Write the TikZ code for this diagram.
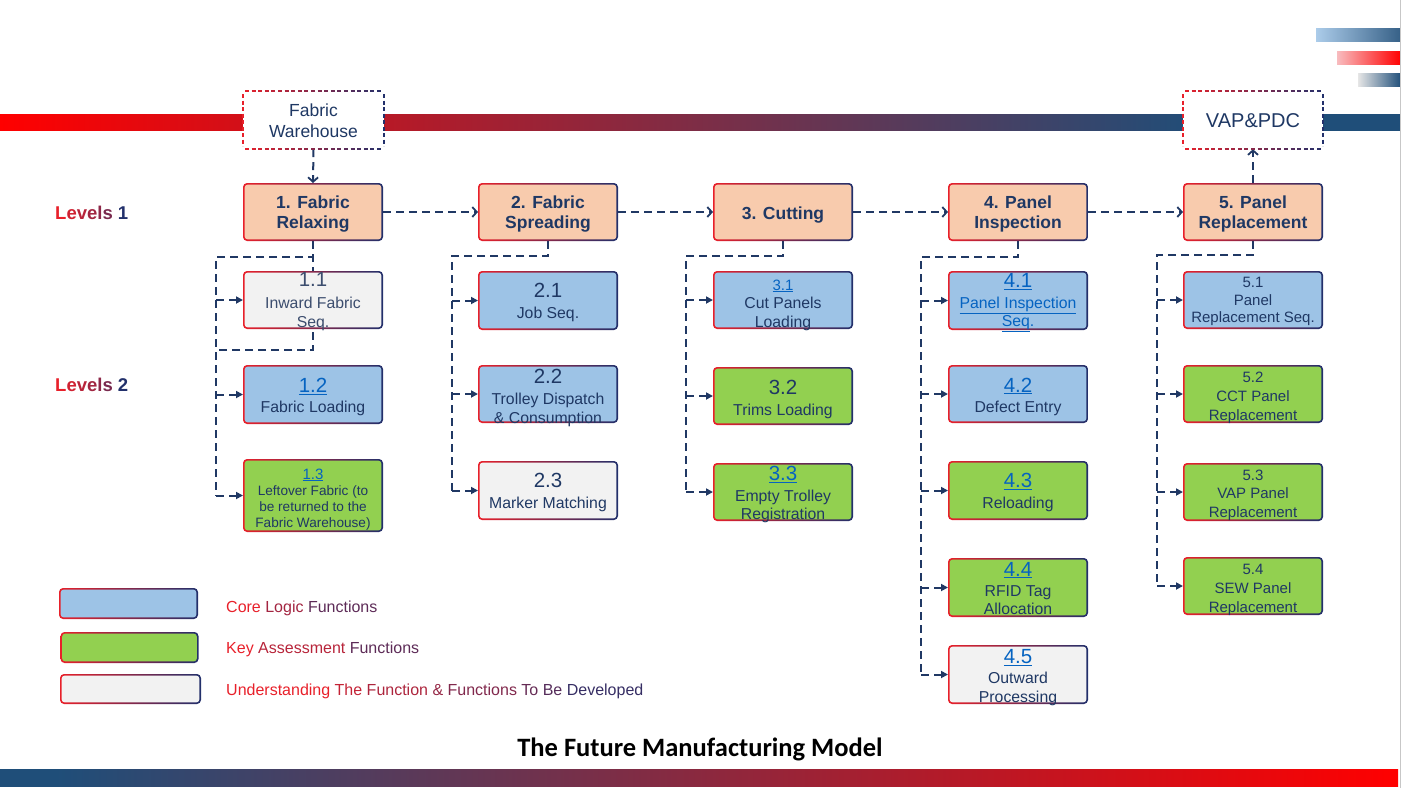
\documentclass[tikz,border=0pt]{standalone}
\usepackage{fontspec}
\setmainfont{Liberation Sans}
\newfontfamily\titlefont{Carlito}
\usetikzlibrary{arrows.meta}
\definecolor{bred}{HTML}{E8202A}
\definecolor{bnavy}{HTML}{22306B}
\definecolor{navy}{HTML}{1F3864}
\definecolor{lnav}{HTML}{203864}
\definecolor{slate}{HTML}{3C4D6E}
\definecolor{link}{HTML}{0563C1}
\definecolor{forange}{HTML}{F8CBAD}
\definecolor{fblue}{HTML}{9DC3E6}
\definecolor{fgreen}{HTML}{92D050}
\definecolor{fgray}{HTML}{F2F2F2}
\definecolor{bandblue}{HTML}{1F4E79}
\definecolor{pureRed}{HTML}{FF0000}
\pgfdeclarehorizontalshading{bandtop}{100bp}{color(0bp)=(pureRed); color(25bp)=(pureRed); color(68bp)=(bandblue); color(100bp)=(bandblue)}
\pgfdeclarehorizontalshading{bandbot}{100bp}{color(0bp)=(bandblue); color(27bp)=(bandblue); color(75bp)=(pureRed); color(100bp)=(pureRed)}
\pgfdeclarelayer{back}
\pgfdeclarelayer{bg}
\pgfsetlayers{back,bg,main}
\tikzset{
 dl/.style={draw=lnav, line width=2pt, dash pattern=on 8pt off 5pt},
 dlt/.style={dl, line width=2.6pt},
 oarr/.style={-{Straight Barb[length=4.5pt,width=10pt,line width=1.8pt]}},
 farr/.style={-{Triangle[length=7pt,width=7pt]}},
 tnode/.style={anchor=mid, inner sep=0pt, text=navy, yshift=-3.5pt},
 lone/.style={tnode, font=\bfseries\fontsize{17.5}{20}\selectfont},
 nb/.style={tnode, font=\fontsize{20.5}{23}\selectfont},
 ns/.style={tnode, font=\fontsize{15}{17}\selectfont},
 ds/.style={tnode, font=\fontsize{15.8}{18}\selectfont},
 dss/.style={tnode, font=\fontsize{13.6}{16}\selectfont},
 lk/.style={text=link},
 sl/.style={text=slate},
 outerbox/.style={rounded corners=4pt, left color=bred, right color=bnavy, inner sep=0pt, outer sep=0pt},
 innerbox/.style={rounded corners=2.8pt, fill=#1, inner sep=0pt, outer sep=0pt},
 sidelabel/.style={anchor=mid west, inner sep=0pt, yshift=-3.5pt},
}
\newcommand\gbox[6]{%
 \node[outerbox, minimum width=#4pt, minimum height=#5pt] (#1) at (#2,#3) {};
 \node[innerbox=#6, minimum width=#4pt-3.4pt, minimum height=#5pt-3.4pt] (#1i) at (#1.center) {};
}
\newcommand\tx[4]{\node[#2] (#1) at (#3) {#4};}
\newcommand\dbox[4]{%
 \draw[bred, line width=1.4pt, dash pattern=on 4pt off 2.5pt] (#1,#2+3) -- (#1,#4-3);
 \draw[bnavy, line width=1.4pt, dash pattern=on 4pt off 2.5pt] (#3,#2+3) -- (#3,#4-3);
 \foreach \k in {0,...,20}{%
  \pgfmathsetmacro\xa{#1+2+\k*6.6}
  \pgfmathtruncatemacro\pc{100-100*(\xa-#1)/(#3-#1)}
  \draw[color=bred!\pc!bnavy, line width=1.4pt] (\xa,#2) -- ++(4,0) (\xa,#4) -- ++(4,0);
 }}
\newcommand\gw[2]{\textcolor{bred!#1!bnavy}{#2}}
\begin{document}
\begin{tikzpicture}[x=1pt,y=-1pt]
\useasboundingbox (0,0) rectangle (1401,788);
\begin{pgfonlayer}{back}
 \shade[shading=bandtop] (0,114) rectangle (1401,130);
 \shade[shading=bandbot] (0,769) rectangle (1398,786);
 \shade[left color=fblue!85!white, right color=bandblue!90!white] (1316,28) rectangle (1401,41);
 \shade[left color=bred!30!white, right color=pureRed] (1337,51) rectangle (1401,64);
 \shade[left color=fgray!95!black, right color=bandblue] (1358,73) rectangle (1401,86);
 \draw[black!22, line width=1pt] (1400.5,0) -- (1400.5,788);
\end{pgfonlayer}

% dashed top boxes
\node[fill=white, minimum width=141pt, minimum height=58pt, inner sep=0pt] (fw) at (313.5,120) {};
\dbox{243}{91}{384}{149}
\tx{fwa}{tnode, font=\fontsize{17.5}{20}\selectfont}{313.5,110}{Fabric}
\tx{fwb}{tnode, font=\fontsize{17.5}{20}\selectfont}{313.5,131}{Warehouse}
\node[fill=white, minimum width=140pt, minimum height=58pt, inner sep=0pt] (vap) at (1253,120) {};
\dbox{1183}{91}{1323}{149}
\tx{vapt}{tnode, font=\fontsize{20}{22}\selectfont}{1253,121}{VAP\&PDC}

% level labels
\node[sidelabel, font=\bfseries\fontsize{18.5}{21}\selectfont] (lev1) at (55,213)
 {\gw{100}{L}\gw{88}{e}\gw{76}{v}\gw{64}{e}\gw{54}{l}\gw{44}{s} \gw{0}{1}};
\node[sidelabel, font=\bfseries\fontsize{18.5}{21}\selectfont] (lev2) at (55,385)
 {\gw{100}{L}\gw{88}{e}\gw{76}{v}\gw{64}{e}\gw{54}{l}\gw{44}{s} \gw{0}{2}};

% level 1 boxes
\gbox{b1}{313}{212}{140}{58}{forange}
\gbox{b2}{548}{212}{140}{58}{forange}
\gbox{b3}{783}{212}{140}{58}{forange}
\gbox{b4}{1018}{212}{140}{58}{forange}
\gbox{b5}{1253}{212}{140}{58}{forange}
\tx{b1a}{lone}{313,202.3}{1. Fabric}
\tx{b1b}{lone}{313,222.3}{Relaxing}
\tx{b2a}{lone}{548,202.3}{2. Fabric}
\tx{b2b}{lone}{548,222.3}{Spreading}
\tx{b3a}{lone}{783,213.3}{3. Cutting}
\tx{b4a}{lone}{1018,202.3}{4. Panel}
\tx{b4b}{lone}{1018,222.3}{Inspection}
\tx{b5a}{lone}{1253,202.3}{5. Panel}
\tx{b5b}{lone}{1253,222.3}{Replacement}

% level 2 boxes
\gbox{b11}{313}{300}{140}{58}{fgray}
\gbox{b12}{313}{394.5}{140}{59}{fblue}
\gbox{b13}{313}{495.5}{140}{73}{fgreen}
\gbox{b21}{548}{300.5}{140}{59}{fblue}
\gbox{b22}{548}{394}{140}{58}{fblue}
\gbox{b23}{548}{490.5}{140}{59}{fgray}
\gbox{b31}{783}{300}{140}{58}{fblue}
\gbox{b32}{783}{396}{140}{58}{fgreen}
\gbox{b33}{783}{492}{140}{58}{fgreen}
\gbox{b41}{1018}{300.5}{140}{59}{fblue}
\gbox{b42}{1018}{394}{140}{58}{fblue}
\gbox{b43}{1018}{490.5}{140}{59}{fgreen}
\gbox{b44}{1018}{587.5}{140}{59}{fgreen}
\gbox{b45}{1018}{674.5}{140}{59}{fgray}
\gbox{b51}{1253}{300}{140}{58}{fblue}
\gbox{b52}{1253}{394}{140}{58}{fgreen}
\gbox{b53}{1253}{492}{140}{58}{fgreen}
\gbox{b54}{1253}{586}{140}{58}{fgreen}

% texts col 1
\tx{t11a}{nb,sl}{313,280}{1.1}
\tx{t11b}{ds,sl}{313,302.7}{Inward Fabric}
\tx{t11c}{ds,sl}{313,321.7}{Seq.}
\tx{t12a}{nb,lk}{313,386.7}{\underline{1.2}}
\tx{t12b}{ds}{313,406.7}{Fabric Loading}
\tx{t13a}{ns,lk}{313,473}{\underline{1.3}}
\tx{t13b}{dss}{313,489}{Leftover Fabric (to}
\tx{t13c}{dss}{313,505}{be returned to the}
\tx{t13d}{dss}{313,521}{Fabric Warehouse)}
% col 2
\tx{t21a}{nb}{548,291.7}{2.1}
\tx{t21b}{ds}{548,312.7}{Job Seq.}
\tx{t22a}{nb}{548,377}{2.2}
\tx{t22b}{ds}{548,398}{Trolley Dispatch}
\tx{t22c}{ds}{548,417}{\& Consumption}
\tx{t23a}{nb}{548,481.7}{2.3}
\tx{t23b}{ds}{548,502.7}{Marker Matching}
% col 3
\tx{t31a}{ns,lk}{783,284}{\underline{3.1}}
\tx{t31b}{ds}{783,302.7}{Cut Panels}
\tx{t31c}{ds}{783,321.7}{Loading}
\tx{t32a}{nb}{783,388}{3.2}
\tx{t32b}{ds}{783,409}{Trims Loading}
\tx{t33a}{nb,lk}{783,474}{\underline{3.3}}
\tx{t33b}{ds}{783,495}{Empty Trolley}
\tx{t33c}{ds}{783,513}{Registration}
% col 4
\tx{t41a}{nb,lk}{1018,281.7}{\underline{4.1}}
\tx{t41b}{ds,lk}{1018,302}{\underline{Panel Inspection}}
\tx{t41c}{ds,lk}{1018,320}{\underline{Seq}.}
\tx{t42a}{nb,lk}{1018,386}{\underline{4.2}}
\tx{t42b}{ds}{1018,406.7}{Defect Entry}
\tx{t43a}{nb,lk}{1018,481.7}{\underline{4.3}}
\tx{t43b}{ds}{1018,502.7}{Reloading}
\tx{t44a}{nb,lk}{1018,570}{\underline{4.4}}
\tx{t44b}{ds}{1018,590}{RFID Tag}
\tx{t44c}{ds}{1018,608}{Allocation}
\tx{t45a}{nb,lk}{1018,657}{\underline{4.5}}
\tx{t45b}{ds}{1018,677}{Outward}
\tx{t45c}{ds}{1018,696}{Processing}
% col 5
\tx{t51a}{ns}{1253,281.7}{5.1}
\tx{t51b}{ns}{1253,299}{Panel}
\tx{t51c}{ns}{1253,316.7}{Replacement Seq.}
\tx{t52a}{ns}{1253,376.7}{5.2}
\tx{t52b}{ns}{1253,395}{CCT Panel}
\tx{t52c}{ns}{1253,414}{Replacement}
\tx{t53a}{ns}{1253,474}{5.3}
\tx{t53b}{ns}{1253,492.7}{VAP Panel}
\tx{t53c}{ns}{1253,511.7}{Replacement}
\tx{t54a}{ns}{1253,568}{5.4}
\tx{t54b}{ns}{1253,587}{SEW Panel}
\tx{t54c}{ns}{1253,606}{Replacement}

% trunk coordinates
\coordinate (k1) at (216,257);
\coordinate (lp1) at (216,350);
\coordinate (k2) at (452,256);
\coordinate (k3) at (686,256);
\coordinate (k4) at (921,257);
\coordinate (k5) at (1157,255);

\begin{pgfonlayer}{bg}
 \draw[dl, oarr] (fw.south) -- (b1.north);
 \draw[dl, oarr] (b5.north) -- (vap.south);
 \draw[dl, oarr] (b1.east) -- (b2.west);
 \draw[dl, oarr] (b2.east) -- (b3.west);
 \draw[dl, oarr] (b3.east) -- (b4.west);
 \draw[dl, oarr] (b4.east) -- (b5.west);
 % col 1
 \draw[dl] (b1.south) -- (b1.south |- k1) -- (k1) -- (k1 |- b13.west);
 \draw[dl] (b1.south) -- (b1.south |- lp1) -- (lp1);
 \draw[dl, farr] (k1 |- b11.west) -- (b11.west);
 \draw[dl, farr] (k1 |- b12.west) -- (b12.west);
 \draw[dl, farr] (k1 |- b13.west) -- (b13.west);
 % col 2
 \draw[dl] (b2.south) -- (b2.south |- k2) -- (k2) -- (k2 |- b23.west);
 \draw[dl, farr] (k2 |- b21.west) -- (b21.west);
 \draw[dl, farr] (k2 |- b22.west) -- (b22.west);
 \draw[dl, farr] (k2 |- b23.west) -- (b23.west);
 % col 3
 \draw[dl] (b3.south) -- (b3.south |- k3) -- (k3) -- (k3 |- b33.west);
 \draw[dl, farr] (k3 |- b31.west) -- (b31.west);
 \draw[dl, farr] (k3 |- b32.west) -- (b32.west);
 \draw[dl, farr] (k3 |- b33.west) -- (b33.west);
 % col 4
 \draw[dlt] (b4.south) -- (b4.south |- k4) -- (k4) -- (k4 |- b45.west);
 \draw[dl, farr] (k4 |- b41.west) -- (b41.west);
 \draw[dl, farr] (k4 |- b42.west) -- (b42.west);
 \draw[dl, farr] (k4 |- b43.west) -- (b43.west);
 \draw[dl, farr] (k4 |- b44.west) -- (b44.west);
 \draw[dl, farr] (k4 |- b45.west) -- (b45.west);
 % col 5
 \draw[dl] (b5.south) -- (b5.south |- k5) -- (k5) -- (k5 |- b54.west);
 \draw[dl, farr] (k5 |- b51.west) -- (b51.west);
 \draw[dl, farr] (k5 |- b52.west) -- (b52.west);
 \draw[dl, farr] (k5 |- b53.west) -- (b53.west);
 \draw[dl, farr] (k5 |- b54.west) -- (b54.west);
\end{pgfonlayer}

% legend
\gbox{lg1}{128.5}{603.5}{139}{31}{fblue}
\gbox{lg2}{129.5}{647.5}{138}{31}{fgreen}
\gbox{lg3}{130.5}{689}{141}{30}{fgray}
\node[sidelabel, font=\fontsize{16}{18}\selectfont] (lt1) at (226,606)
 {\gw{100}{Core} \gw{65}{Logic} \gw{30}{Functions}};
\node[sidelabel, font=\fontsize{16}{18}\selectfont] (lt2) at (226,647)
 {\gw{100}{Key} \gw{75}{Assessment} \gw{30}{Functions}};
\node[sidelabel, font=\fontsize{16}{18}\selectfont] (lt3) at (226,689)
 {\gw{100}{Understanding} \gw{82}{The} \gw{70}{Function} \gw{58}{\&} \gw{48}{Functions} \gw{34}{To} \gw{26}{Be} \gw{10}{Developed}};

% title
\node[inner sep=0pt, anchor=mid, font=\titlefont\bfseries\fontsize{26.5}{29}\selectfont, text=black, yshift=-5pt] (title) at (700,749) {The Future Manufacturing Model};
\end{tikzpicture}
\end{document}
